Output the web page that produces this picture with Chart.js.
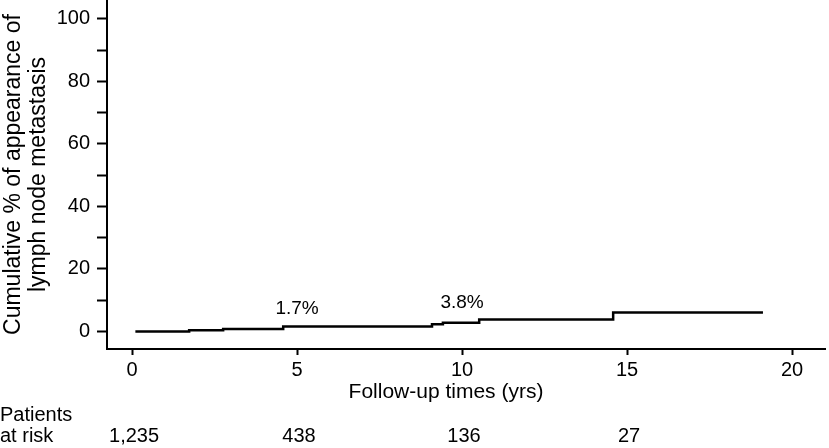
<!DOCTYPE html>
<html lang="en">
<head>
  <meta charset="UTF-8">
  <title>Cumulative lymph node metastasis</title>
  <script src="https://cdn.jsdelivr.net/npm/chart.js"></script>
  <style>
    body {
      margin: 0;
      background: #ffffff;
    }
    #wrap {
      width: 829px;
      height: 448px;
      position: relative;
    }
  </style>
</head>
<body>
  <div id="wrap"><canvas id="kmChart"></canvas></div>
  <script>
    // step times (yrs) and cumulative % after each step
    const stepTimes = [0.1, 1.73, 2.76, 4.58, 9.09, 9.42, 10.52, 14.58, 19.12];
    const cumPercent = [0, 0.4, 0.8, 1.6, 2.3, 2.8, 3.8, 6.1, 6.1];

    // labels written on the curve
    const noteText = ['1.7%', '3.8%'];
    const noteYears = [5, 10];

    // patients at risk table
    const riskYears = [0, 5, 10, 15];
    const riskCounts = ['1,235', '438', '136', '27'];

    const FONT = '"Liberation Sans", Arial, Helvetica, sans-serif';
    Chart.defaults.font.family = FONT;
    Chart.defaults.color = '#000';

    const extraText = {
      id: 'extraText',
      afterDraw(chart) {
        const c = chart.ctx;
        const xs = chart.scales.x;
        const ys = chart.scales.y;
        c.save();
        c.fillStyle = '#000';
        c.font = '19px ' + FONT;
        c.textAlign = 'center';
        c.textBaseline = 'middle';
        // notes above the curve
        const noteLift = [7.2, 9.1];
        noteText.forEach((t, i) => {
          c.fillText(t, xs.getPixelForValue(noteYears[i]), ys.getPixelForValue(noteLift[i]));
        });
        // x axis title
        c.font = '21px ' + FONT;
        c.fillText('Follow-up times (yrs)', 446, 392);
        // risk table
        c.font = '20px ' + FONT;
        riskYears.forEach((yr, i) => {
          c.fillText(riskCounts[i], xs.getPixelForValue(yr) + 2, 436);
        });
        c.textAlign = 'left';
        c.fillText('Patients', 0, 415);
        c.fillText('at risk', 0, 436);
        c.restore();
      }
    };

    new Chart(document.getElementById('kmChart'), {
      type: 'line',
      data: {
        datasets: [{
          data: stepTimes.map((t, i) => ({ x: t, y: cumPercent[i] })),
          stepped: 'before',
          borderColor: '#000',
          borderWidth: 2.5,
          pointRadius: 0,
          fill: false
        }]
      },
      options: {
        responsive: true,
        maintainAspectRatio: false,
        animation: false,
        layout: { padding: { left: 0, right: 4, top: 0, bottom: 0 } },
        plugins: {
          legend: { display: false },
          tooltip: { enabled: false }
        },
        scales: {
          x: {
            type: 'linear',
            min: -0.76,
            max: 21,
            afterFit(s) {
              s.height = 99;
              s.paddingLeft = 0;
              s.paddingRight = 0;
            },
            border: { display: true, color: '#000', width: 2 },
            grid: { drawOnChartArea: false, drawTicks: true, tickLength: 6, tickWidth: 2, tickColor: '#000' },
            ticks: {
              stepSize: 5,
              includeBounds: false,
              autoSkip: false,
              maxRotation: 0,
              padding: 3,
              font: { size: 20 },
              color: '#000'
            }
          },
          y: {
            min: -5.6,
            max: 106,
            afterFit(s) {
              s.width = 107;
              s.paddingTop = 0;
              s.paddingBottom = 0;
            },
            border: { display: true, color: '#000', width: 2 },
            grid: { drawOnChartArea: false, drawTicks: true, tickLength: 10, tickWidth: 2, tickColor: '#000' },
            ticks: {
              stepSize: 10,
              includeBounds: false,
              autoSkip: false,
              padding: 7,
              font: { size: 20 },
              color: '#000',
              callback: v => (v % 20 === 0 ? v : '')
            },
            title: {
              display: true,
              text: ['Cumulative % of appearance of', 'lymph node metastasis'],
              font: { size: 23, lineHeight: 1.05 },
              color: '#000',
              padding: { top: 2, bottom: 0 }
            }
          }
        }
      },
      plugins: [extraText]
    });
  </script>
</body>
</html>
